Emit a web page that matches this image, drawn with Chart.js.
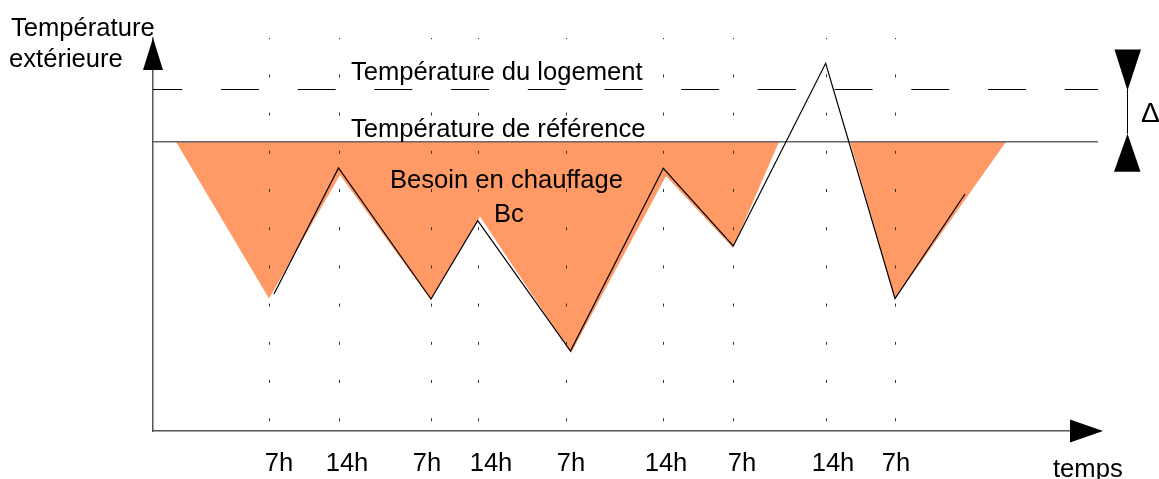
<!DOCTYPE html>
<html lang="fr">
<head>
<meta charset="utf-8">
<title>Besoin en chauffage</title>
<script src="https://cdn.jsdelivr.net/npm/chart.js@4.4.1/dist/chart.umd.min.js"></script>
<style>
  html, body { margin: 0; padding: 0; background: #fff; }
  #wrap { width: 1159px; height: 479px; position: relative; }
</style>
</head>
<body>
<div id="wrap"><canvas id="chart"></canvas></div>
<script>
// ================================================================
//  DATA  (x: time along the axis, y: temperature above the time axis)
// ================================================================
const gridTimes  = [116, 186, 278, 325, 413, 510, 580, 673, 742];
const tickTimes  = [126, 194, 274, 338, 418, 513, 589, 680, 743];
const tickLabels = ['7h', '14h', '7h', '14h', '7h', '14h', '7h', '14h', '7h'];

// outside temperature
const extTimes = [121, 185.5, 278, 324.7, 417.5, 510.3, 580.3, 672.7, 742, 812];
const extTemps = [137, 263, 132, 210.3, 80, 262.7, 185, 367.7, 132.5, 237];

// heating need (shaded areas under the reference temperature)
const need1Times = [23, 116, 187, 278, 327, 418, 513, 580, 626];
const need1Temps = [289.3, 132.5, 256, 131, 214.5, 78, 255, 183, 289.3];
const need2Times = [697, 742, 853];
const need2Temps = [289.3, 132, 289.3];

const levelSpan     = [0, 945];
const tempLogement  = 341.5;
const tempReference = 289.3;

const FONT = '"Liberation Sans", Arial, Helvetica, sans-serif';
const FONT_SIZE = 25.6;
const ORANGE = '#ff9966';

const pts = (xs, ys) => xs.map((x, i) => ({ x, y: ys[i] }));
const level = v => levelSpan.map(x => ({ x, y: v }));

// ================================================================
//  ANNOTATIONS (axis arrows, labels, delta marker)
// ================================================================
const sketchNotes = {
  id: 'sketchNotes',
  afterDraw(chart) {
    const { ctx, chartArea: a, scales: { y } } = chart;
    const yLog = y.getPixelForValue(tempLogement);
    const yRef = y.getPixelForValue(tempReference);
    ctx.save();
    ctx.fillStyle = '#000';
    ctx.strokeStyle = '#000';

    // y axis arrow
    ctx.beginPath();
    ctx.moveTo(a.left, a.top);
    ctx.lineTo(a.left - 10, a.top + 32);
    ctx.lineTo(a.left + 10, a.top + 32);
    ctx.closePath();
    ctx.fill();
    // x axis arrow
    ctx.beginPath();
    ctx.moveTo(a.right + 3, a.bottom);
    ctx.lineTo(a.right - 30, a.bottom - 11.5);
    ctx.lineTo(a.right - 30, a.bottom + 11.5);
    ctx.closePath();
    ctx.fill();

    // delta marker between the two levels
    const dx = 1127;
    ctx.lineWidth = 1;
    ctx.beginPath();
    ctx.moveTo(dx + 0.5, yLog);
    ctx.lineTo(dx + 0.5, yRef - 8);
    ctx.stroke();
    ctx.beginPath();
    ctx.moveTo(dx - 12.5, yLog - 40);
    ctx.lineTo(dx + 14, yLog - 40);
    ctx.lineTo(dx + 0.5, yLog + 1);
    ctx.closePath();
    ctx.fill();
    ctx.beginPath();
    ctx.moveTo(dx + 0.5, yRef - 8);
    ctx.lineTo(dx - 13, yRef + 30);
    ctx.lineTo(dx + 13.5, yRef + 30);
    ctx.closePath();
    ctx.fill();

    // texts
    ctx.font = FONT_SIZE + 'px ' + FONT;
    ctx.textAlign = 'left';
    ctx.textBaseline = 'alphabetic';
    ctx.fillText('Température', 11, 36);
    ctx.fillText('extérieure', 9, 67);
    ctx.fillText('Température du logement', 351, yLog - 10);
    ctx.fillText('Température de référence', 351, yRef - 5);
    ctx.fillText('Besoin en chauffage', 390, 187.5);
    ctx.fillText('Bc', 494, 221.5);
    ctx.fillText('temps', 1053, 476.5);
    ctx.font = '28px ' + FONT;
    ctx.fillText('\u0394', 1141, 122);
    ctx.restore();
  }
};

// ================================================================
//  CHART
// ================================================================
new Chart(document.getElementById('chart'), {
  type: 'line',
  data: {
    datasets: [
      { label: 'Température extérieure', data: pts(extTimes, extTemps),
        borderColor: '#000', borderWidth: 1.2, pointRadius: 0, fill: false, tension: 0 },
      { label: 'Température du logement', data: level(tempLogement),
        borderColor: '#000', borderWidth: 1, borderDash: [38, 38.7], borderDashOffset: 8.7,
        pointRadius: 0, fill: false },
      { label: 'Température de référence', data: level(tempReference),
        borderColor: '#666', borderWidth: 1.5, pointRadius: 0, fill: false },
      { label: 'Besoin en chauffage', data: pts(need1Times, need1Temps),
        borderColor: 'rgba(0,0,0,0)', borderWidth: 0, pointRadius: 0,
        backgroundColor: ORANGE, fill: { value: tempReference } },
      { label: 'Besoin en chauffage (2)', data: pts(need2Times, need2Temps),
        borderColor: 'rgba(0,0,0,0)', borderWidth: 0, pointRadius: 0,
        backgroundColor: ORANGE, fill: { value: tempReference } }
    ]
  },
  options: {
    responsive: true,
    maintainAspectRatio: false,
    animation: false,
    layout: { padding: { left: 153, right: 59, top: 38, bottom: 0 } },
    plugins: { legend: { display: false }, tooltip: { enabled: false } },
    scales: {
      x: {
        type: 'linear', position: 'bottom', min: 0, max: 947, weight: 0,
        afterBuildTicks: s => { s.ticks = gridTimes.map(v => ({ value: v })); },
        afterFit: s => { s.height = 0; },
        ticks: { display: false },
        grid: { color: '#333', lineWidth: 1, drawTicks: false, z: 1 },
        border: { display: false, dash: [3, 35.2], dashOffset: 1.8 }
      },
      xl: {
        type: 'linear', position: 'bottom', min: 0, max: 947, weight: 1,
        afterBuildTicks: s => { s.ticks = tickTimes.map(v => ({ value: v })); },
        afterFit: s => { s.height = 48; },
        grid: { display: false, drawTicks: false },
        border: { display: true, color: '#555', width: 1.5 },
        ticks: {
          autoSkip: false, maxRotation: 0, minRotation: 0, padding: 18,
          color: '#000', font: { family: FONT, size: FONT_SIZE },
          callback: (v, i) => tickLabels[i]
        }
      },
      y: {
        type: 'linear', position: 'left', min: 0, max: 393,
        afterFit: s => { s.width = 0; },
        ticks: { display: false },
        grid: { display: false, drawTicks: false },
        border: { display: true, color: '#555', width: 1.5 }
      }
    }
  },
  plugins: [sketchNotes]
});
</script>
</body>
</html>
